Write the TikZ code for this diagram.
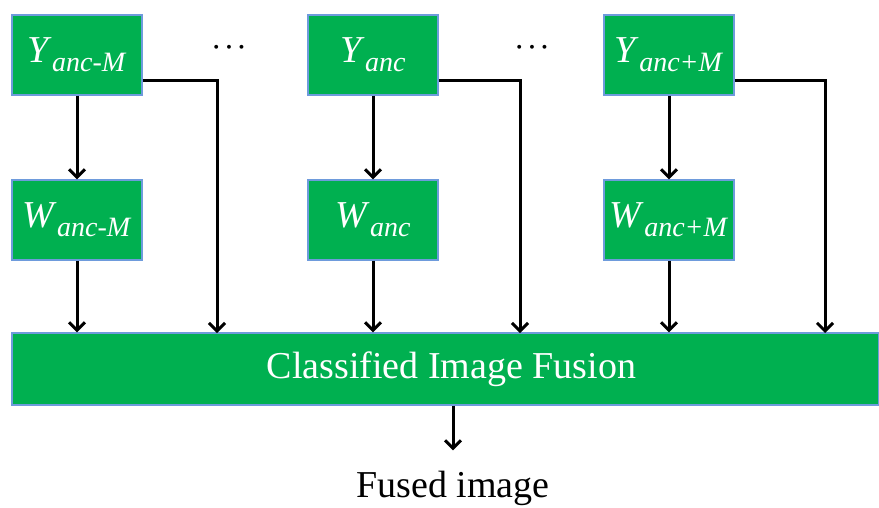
\documentclass[tikz,border=0pt]{standalone}
\usepackage{fontspec}
\setmainfont{Liberation Serif}
\usetikzlibrary{arrows.meta}
\definecolor{boxgreen}{RGB}{0,176,80}
\definecolor{boxline}{RGB}{110,155,220}
\tikzset{
  blk/.style={draw=boxline, line width=1.2pt, fill=boxgreen, text=white, minimum width=130pt, minimum height=80pt, inner sep=0pt},
  arr/.style={line width=3pt, -{Straight Barb[length=8pt,width=16pt]}},
}
\newcommand{\lab}[2]{\textit{#1}\raisebox{-9pt}{\fontsize{28}{30}\selectfont\textit{#2}}}
\begin{document}
\begin{tikzpicture}[x=1pt, y=-1pt, font=\fontsize{38}{40}\selectfont]
			\useasboundingbox (0,0) rectangle (879,507);
			\node[blk, minimum width=867pt, minimum height=72pt] (fuse) at (445.5,369) {\hspace{12pt}Classified Image Fusion};
			\foreach \n/\x/\s/\d in {a/77/anc-M/217, b/373/anc/520, c/669/anc+M/825}{
				\node[blk] (y\n) at (\x,55) {\lab{Y}{\s}};
				\node[blk] (w\n) at (\x,220) {\lab{W}{\s}};
				\coordinate (j\n) at (\d,333);
				\draw[arr] (y\n) -- (w\n);
				\draw[arr] (w\n) -- (w\n.south |- fuse.north);
				\draw[arr] ([yshift=-25pt]y\n.east) -| (j\n);
			}
			\node[font=\fontsize{32}{34}\selectfont\boldmath] (da) at (229,48) {$\cdots$};
			\node[font=\fontsize{32}{34}\selectfont\boldmath] (db) at (532,48) {$\cdots$};
			\node[anchor=base, inner sep=0pt] (out) at (453,497) {Fused image};
			\draw[arr] (fuse.south -| out.north) -- ([yshift=20pt]out.north);
		\end{tikzpicture}
\end{document}
